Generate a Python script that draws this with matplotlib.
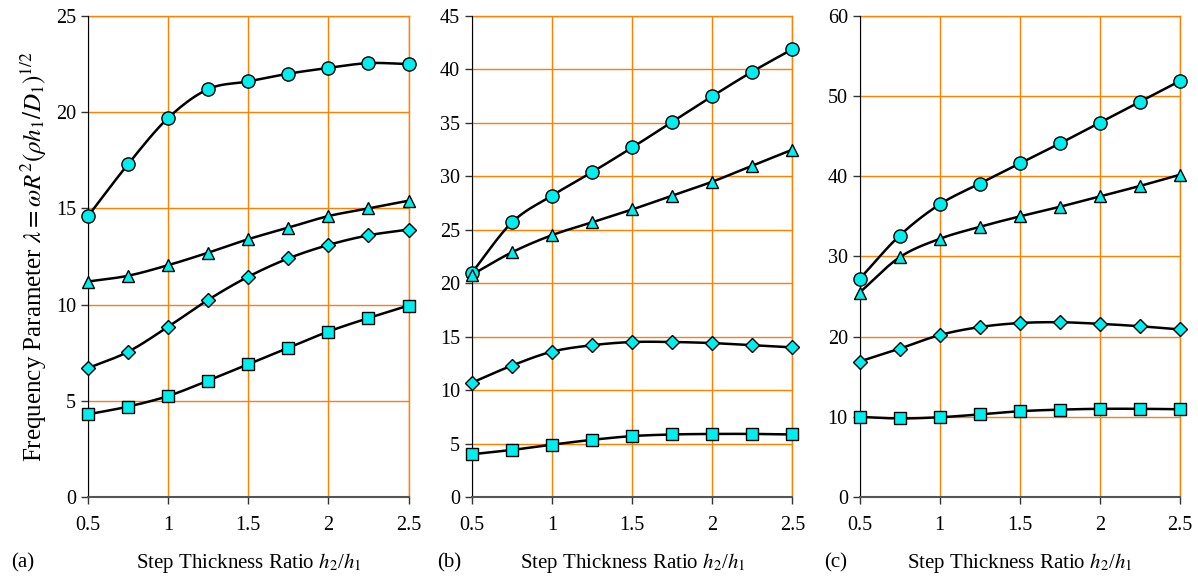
import numpy as np
import matplotlib
matplotlib.use("Agg")
from matplotlib import pyplot as plt

plt.rcParams['font.family'] = ['Liberation Serif', 'DejaVu Serif']
plt.rcParams['mathtext.fontset'] = 'stix'

# step thickness ratio h2/h1
ratio = [0.5, 0.75, 1.0, 1.25, 1.5, 1.75, 2.0, 2.25, 2.5]

# panel (a)
a_circ = [14.6, 17.3, 19.7, 21.2, 21.6, 22.0, 22.3, 22.55, 22.5]
a_tri = [11.2, 11.5, 12.05, 12.7, 13.4, 14.0, 14.6, 15.0, 15.4]
a_dia = [6.7, 7.55, 8.85, 10.25, 11.45, 12.4, 13.1, 13.6, 13.9]
a_sq = [4.3, 4.7, 5.25, 6.05, 6.9, 7.75, 8.6, 9.3, 9.95]

# panel (b)
b_circ = [21.0, 25.7, 28.2, 30.4, 32.7, 35.1, 37.5, 39.8, 41.9]
b_tri = [20.8, 22.9, 24.5, 25.7, 26.9, 28.2, 29.5, 31.0, 32.5]
b_dia = [10.7, 12.3, 13.6, 14.2, 14.5, 14.5, 14.4, 14.2, 14.0]
b_sq = [4.0, 4.4, 4.9, 5.35, 5.7, 5.85, 5.9, 5.9, 5.85]

# panel (c)
c_circ = [27.2, 32.6, 36.5, 39.1, 41.6, 44.1, 46.7, 49.3, 51.9]
c_tri = [25.5, 29.9, 32.2, 33.7, 35.0, 36.2, 37.5, 38.8, 40.2]
c_dia = [16.9, 18.5, 20.2, 21.2, 21.7, 21.8, 21.6, 21.3, 20.9]
c_sq = [10.0, 9.8, 9.95, 10.3, 10.7, 10.9, 11.0, 11.0, 10.95]

panels = ['(a)', '(b)', '(c)']
ymax = [25, 45, 60]
ystep = [5, 5, 10]
xticks = [0.5, 1, 1.5, 2, 2.5]
xticklabels = ['0.5', '1', '1.5', '2', '2.5']


def smooth(x, y, n=20):
    # catmull-rom type smoothing like the spreadsheet "smoothed line"
    x = np.asarray(x, float)
    y = np.asarray(y, float)
    px = np.concatenate([[2*x[0]-x[1]], x, [2*x[-1]-x[-2]]])
    py = np.concatenate([[2*y[0]-y[1]], y, [2*y[-1]-y[-2]]])
    xs, ys = [], []
    t = np.linspace(0, 1, n, endpoint=False)
    for i in range(1, len(px)-2):
        for p, out in ((px, xs), (py, ys)):
            p0, p1, p2, p3 = p[i-1], p[i], p[i+1], p[i+2]
            out.extend(0.5*((2*p1) + (-p0+p2)*t + (2*p0-5*p1+4*p2-p3)*t**2
                            + (-p0+3*p1-3*p2+p3)*t**3))
    xs.append(x[-1])
    ys.append(y[-1])
    return xs, ys


data = [(a_circ, a_tri, a_dia, a_sq), (b_circ, b_tri, b_dia, b_sq),
        (c_circ, c_tri, c_dia, c_sq)]
markers = ['o', '^', 'D', 's']
msize = [9.5, 9, 7, 9]
lefts = [0.0735, 0.394, 0.7175]

fig = plt.figure(figsize=(11.98, 5.79), dpi=100)
grid_col = '#ff7f00'

for k in range(3):
    ax = fig.add_axes([lefts[k], 0.1416, 0.2675, 0.8308])
    for s in range(4):
        xs, ys = smooth(ratio, data[k][s])
        ax.plot(xs, ys, color='black', lw=1.8, zorder=3)
        ax.plot(ratio, data[k][s], ls='none', marker=markers[s], ms=msize[s],
                mfc='#00eeee', mec='black', mew=1.0, zorder=4, clip_on=False)
    ax.set_xlim(0.5, 2.5)
    ax.set_ylim(0, ymax[k])
    ax.set_xticks(xticks)
    ax.set_xticklabels(xticklabels)
    ax.set_yticks(np.arange(0, ymax[k]+0.1, ystep[k]))
    ax.grid(True, color=grid_col, lw=1.0, zorder=0)
    ax.set_axisbelow(True)
    ax.spines['top'].set_visible(False)
    ax.spines['right'].set_visible(False)
    ax.spines['left'].set_color('black')
    ax.spines['bottom'].set_color('#555555')
    ax.spines['bottom'].set_linewidth(1.5)
    ax.axhline(ymax[k], color=grid_col, lw=1.0, zorder=0, clip_on=False)
    ax.axvline(2.5, color=grid_col, lw=1.0, zorder=0, clip_on=False)
    ax.tick_params(axis='both', labelsize=14.5, direction='out', length=5,
                   width=1.0, color='#333333')
    ax.tick_params(axis='x', pad=9)
    ax.text(0.5, -0.137, 'Step Thickness Ratio $\\it{h}_2$/$\\it{h}_1$',
            transform=ax.transAxes, fontsize=15, ha='center', va='center')
    ax.text(-0.24 if k == 0 else -0.11, -0.137, panels[k], transform=ax.transAxes,
            fontsize=15, ha='left', va='center')
    if k == 0:
        ax.set_ylabel('Frequency Parameter $\\lambda = \\omega R^2(\\rho h_1/D_1)^{1/2}$',
                      fontsize=18, labelpad=5)

fig.savefig('out.png', dpi=100)
